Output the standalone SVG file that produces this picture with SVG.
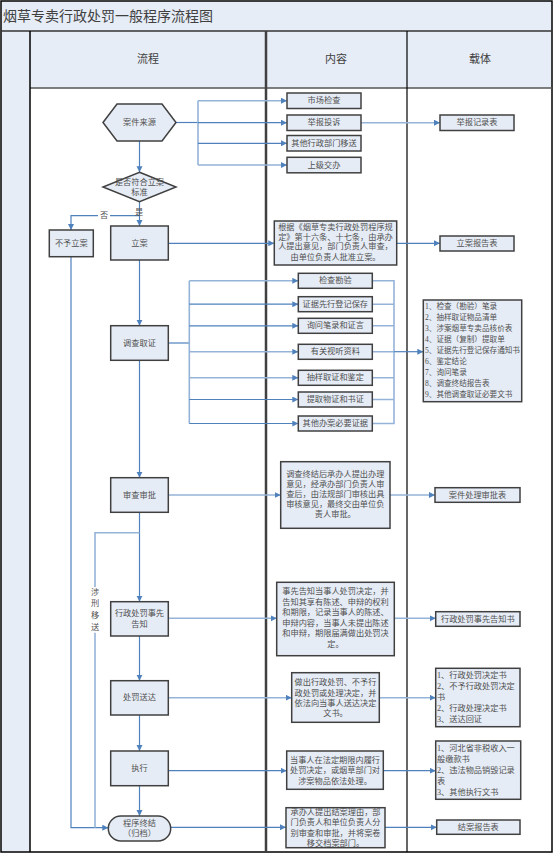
<svg xmlns="http://www.w3.org/2000/svg" width="554" height="855" viewBox="0 0 554 855">
<style>
.box{fill:#E6ECF6;stroke:#404040;stroke-width:1.5}
.t{font-family:"Liberation Serif","Noto Sans CJK SC","Noto Sans CJK JP",serif;font-size:8.2px;fill:#505050;text-anchor:middle;dominant-baseline:central}
.tl{font-family:"Liberation Serif","Noto Sans CJK SC","Noto Sans CJK JP",serif;font-size:8.2px;fill:#505050;text-anchor:start;dominant-baseline:central}
.h{font-family:"Liberation Serif","Noto Sans CJK SC","Noto Sans CJK JP",serif;font-size:11px;fill:#404040;text-anchor:middle;dominant-baseline:central}
.ln{stroke:#4F81BD;stroke-width:1.2;fill:none}
.lt{stroke:#95B3D7;stroke-width:1.6;fill:none}
.a{marker-end:url(#arr)}
</style>
<defs>
<marker id="arr" markerUnits="userSpaceOnUse" markerWidth="7" markerHeight="7" refX="6" refY="3" orient="auto">
<path d="M0,0 L6,3 L0,6 z" fill="#4F81BD"/>
</marker>
</defs>
<g id="frame">
<rect x="0" y="0" width="554" height="855" fill="#ffffff"/>
<rect x="1" y="1" width="551" height="30" fill="#E6EDF7"/>
<rect x="1" y="31" width="29" height="821" fill="#E6EDF7"/>
<rect x="30" y="31" width="522" height="57" fill="#E6EDF7"/>
<rect x="1" y="1" width="551" height="851" fill="none" stroke="#000" stroke-width="1.5"/>
<line x1="1" y1="31" x2="552" y2="31" stroke="#333" stroke-width="1.5"/>
<line x1="30" y1="88" x2="552" y2="88" stroke="#555" stroke-width="1.5"/>
<line x1="30" y1="31" x2="30" y2="852" stroke="#000" stroke-width="1.5"/>
<line x1="266" y1="31" x2="266" y2="852" stroke="#404040" stroke-width="2.5"/>
<line x1="407" y1="31" x2="407" y2="852" stroke="#000" stroke-width="1.2"/>
<text x="3" y="16" style="font-family:'Liberation Serif','Noto Sans CJK SC',serif;font-size:14px;fill:#404040;dominant-baseline:central">烟草专卖行政处罚一般程序流程图</text>
<text class="h" x="148" y="59">流程</text>
<text class="h" x="336" y="59">内容</text>
<text class="h" x="480" y="59">载体</text>
</g>
<g id="connectors">
<path class="ln" d="M176,122.5 H198" stroke-width="2"/>
<path class="lt" d="M198,100.7 V165"/>
<path class="lt a" d="M198,100.7 H287"/>
<path class="ln a" d="M198,122.7 H287"/>
<path class="ln a" d="M198,143.3 H287"/>
<path class="lt a" d="M198,165 H287"/>
<path class="lt a" d="M361,122.7 H440"/>
<path class="ln a" d="M139.5,141 V172.3"/>
<path class="ln a" d="M139.5,201.7 V226"/>
<path class="ln a" d="M139.5,215.7 H71 V230"/>
<path class="ln a" d="M168.3,243.3 H274.3"/>
<path class="ln a" d="M396.7,243.3 H440"/>
<path class="ln a" d="M139.5,260 V325.7"/>
<path class="ln" d="M168.3,343 H189.3" stroke-width="2"/>
<path class="lt" d="M189.3,280.8 V423.5"/>
<path class="lt a" d="M189.3,280.8 H298.3"/>
<path class="ln a" d="M189.3,304.2 H298.3"/>
<path class="ln a" d="M189.3,325.8 H298.3"/>
<path class="lt a" d="M189.3,351.8 H298.3"/>
<path class="lt a" d="M189.3,377.8 H298.3"/>
<path class="ln a" d="M189.3,399.5 H298.3"/>
<path class="ln a" d="M189.3,423.5 H298.3"/>
<path class="lt" d="M372.3,280.8 H394 V423.5 H372.3"/>
<path class="lt" d="M372.3,304.2 H394 M372.3,325.8 H394 M372.3,351.8 H394 M372.3,377.8 H394 M372.3,399.5 H394"/>
<path class="ln a" d="M394,351.7 H423.3" stroke-width="2"/>
<path class="ln a" d="M139.5,360.3 V477.7"/>
<path class="lt a" d="M168.3,495 H280.7"/>
<path class="lt a" d="M390,495 H435"/>
<path class="ln a" d="M139.5,512.3 V601.7"/>
<path class="lt a" d="M168.3,618.3 H276.7"/>
<path class="lt a" d="M394.3,618.3 H435.7"/>
<path class="ln a" d="M139.5,636 V680.7"/>
<path class="lt a" d="M168.3,697.7 H291.7"/>
<path class="lt a" d="M379.3,697.7 H435.7"/>
<path class="ln a" d="M139.5,715 V751"/>
<path class="ln a" d="M168.3,770.7 H286.7"/>
<path class="ln a" d="M383.3,770.7 H435.7"/>
<path class="ln a" d="M139.5,785.7 V816"/>
<path class="ln a" d="M170.7,827.3 H286"/>
<path class="ln a" d="M385,827.3 H436.7"/>
<path class="ln a" d="M71,256.7 V827.7 H108.3"/>
<path class="lt" d="M139.5,532.7 H95 V587 M95,632.7 V827.7"/>
<rect x="98" y="209" width="12" height="12" fill="#fff"/>
<text class="t" x="104" y="215.7">否</text>
<text class="t" x="139" y="212">是</text>
<text class="t"><tspan x="95" y="591.7">涉</tspan><tspan x="95" y="603.3">刑</tspan><tspan x="95" y="615">移</tspan><tspan x="95" y="626.7">送</tspan></text>
</g>
<g id="n_source">
<polygon class="box" points="103,122.5 117,104 162,104 176,122.5 162,141 117,141"/>
<text class="t" x="139.5" y="122.5">案件来源</text>
</g>
<g id="n_s1"><rect class="box" x="287" y="93" width="74" height="15.5"/><text class="t" x="324" y="100.7">市场检查</text></g>
<g id="n_s2"><rect class="box" x="287" y="115" width="74" height="15.5"/><text class="t" x="324" y="122.7">举报投诉</text></g>
<g id="n_s3"><rect class="box" x="287" y="135.5" width="74" height="15.5"/><text class="t" x="324" y="143.3">其他行政部门移送</text></g>
<g id="n_s4"><rect class="box" x="287" y="157.3" width="74" height="15.5"/><text class="t" x="324" y="165">上级交办</text></g>
<g id="n_jbjlb"><rect class="box" x="440" y="115" width="74" height="15.5"/><text class="t" x="477" y="122.7">举报记录表</text></g>
<g id="n_decision">
<polygon class="box" points="139.5,172.3 176,187 139.5,201.7 103,187"/>
<text class="t"><tspan x="139.5" y="181.7">是否符合立案</tspan><tspan x="139.5" y="191.7">标准</tspan></text>
</g>
<g id="n_buyu"><rect class="box" x="49.3" y="230" width="44" height="26.7"/><text class="t" x="71.3" y="243.3">不予立案</text></g>
<g id="n_lian"><rect class="box" x="110.7" y="226" width="57.6" height="34"/><text class="t" x="139.5" y="243">立案</text></g>
<g id="n_lian_c">
<rect class="box" x="274.3" y="221" width="122.4" height="44"/>
<text class="t"><tspan x="335.5" y="226.7">根据《烟草专卖行政处罚程序规</tspan><tspan x="335.5" y="236.5">定》第十六条、十七条，由承办</tspan><tspan x="335.5" y="246.3">人提出意见，部门负责人审查，</tspan><tspan x="335.5" y="257">由单位负责人批准立案。</tspan></text>
</g>
<g id="n_lian_r"><rect class="box" x="440" y="236" width="74" height="15"/><text class="t" x="477" y="243.5">立案报告表</text></g>
<g id="n_diaocha"><rect class="box" x="110.7" y="325.7" width="57.6" height="34.6"/><text class="t" x="139.5" y="343">调查取证</text></g>
<g id="n_e1"><rect class="box" x="298.3" y="273.3" width="74" height="15"/><text class="t" x="335.3" y="280.8">检查勘验</text></g>
<g id="n_e2"><rect class="box" x="298.3" y="296.7" width="74" height="15"/><text class="t" x="335.3" y="304.2">证据先行登记保存</text></g>
<g id="n_e3"><rect class="box" x="298.3" y="318.3" width="74" height="15"/><text class="t" x="335.3" y="325.8">询问笔录和证言</text></g>
<g id="n_e4"><rect class="box" x="298.3" y="344.3" width="74" height="15"/><text class="t" x="335.3" y="351.8">有关视听资料</text></g>
<g id="n_e5"><rect class="box" x="298.3" y="370.3" width="74" height="15"/><text class="t" x="335.3" y="377.8">抽样取证和鉴定</text></g>
<g id="n_e6"><rect class="box" x="298.3" y="392" width="74" height="15"/><text class="t" x="335.3" y="399.5">提取物证和书证</text></g>
<g id="n_e7"><rect class="box" x="298.3" y="416" width="74" height="15"/><text class="t" x="335.3" y="423.5">其他办案必要证据</text></g>
<g id="n_diaocha_r">
<rect class="box" x="423.3" y="300" width="98.4" height="101.7"/>
<text class="tl" style="font-size:7.6px"><tspan x="425" y="305.6">1、检查（勘验）笔录</tspan><tspan x="425" y="316.7">2、抽样取证物品清单</tspan><tspan x="425" y="327.8">3、涉案烟草专卖品核价表</tspan><tspan x="425" y="338.9">4、证据（复制）提取单</tspan><tspan x="425" y="350">5、证据先行登记保存通知书</tspan><tspan x="425" y="361.1">6、鉴定结论</tspan><tspan x="425" y="372.2">7、询问笔录</tspan><tspan x="425" y="383.3">8、调查终结报告表</tspan><tspan x="425" y="394.4">9、其他调查取证必要文书</tspan></text>
</g>
<g id="n_shencha"><rect class="box" x="110.7" y="477.7" width="57.6" height="34.6"/><text class="t" x="139.5" y="495">审查审批</text></g>
<g id="n_shencha_c">
<rect class="box" x="280.7" y="461.7" width="109.3" height="66.6"/>
<text class="t"><tspan x="335.3" y="474.3">调查终结后承办人提出办理</tspan><tspan x="335.3" y="484.3">意见，经承办部门负责人审</tspan><tspan x="335.3" y="494.3">查后，由法规部门审核出具</tspan><tspan x="335.3" y="504.3">审核意见，最终交由单位负</tspan><tspan x="335.3" y="514.3">责人审批。</tspan></text>
</g>
<g id="n_shencha_r"><rect class="box" x="435" y="487.7" width="85" height="14.6"/><text class="t" x="477.5" y="495">案件处理审批表</text></g>
<g id="n_gaozhi"><rect class="box" x="110.7" y="601.7" width="57.6" height="34.3"/><text class="t"><tspan x="139.5" y="613.3">行政处罚事先</tspan><tspan x="139.5" y="623.5">告知</tspan></text></g>
<g id="n_gaozhi_c">
<rect class="box" x="276.7" y="582.3" width="117.6" height="73.4"/>
<text class="t"><tspan x="335.5" y="591">事先告知当事人处罚决定，并</tspan><tspan x="335.5" y="601.6">告知其享有陈述、申辩的权利</tspan><tspan x="335.5" y="612.2">和期限，记录当事人的陈述、</tspan><tspan x="335.5" y="622.8">申辩内容，当事人未提出陈述</tspan><tspan x="335.5" y="633.4">和申辩，期限届满做出处罚决</tspan><tspan x="335.5" y="644">定。</tspan></text>
</g>
<g id="n_gaozhi_r"><rect class="box" x="435.7" y="611.7" width="84.3" height="14.6"/><text class="t" x="477.8" y="619">行政处罚事先告知书</text></g>
<g id="n_songda"><rect class="box" x="110.7" y="680.7" width="57.6" height="34.3"/><text class="t" x="139.5" y="697.8">处罚送达</text></g>
<g id="n_songda_c">
<rect class="box" x="291.7" y="672.7" width="87.6" height="49.6"/>
<text class="t"><tspan x="335.5" y="682.3">做出行政处罚、不予行</tspan><tspan x="335.5" y="692.5">政处罚或处理决定，并</tspan><tspan x="335.5" y="702.7">依法向当事人送达决定</tspan><tspan x="335.5" y="712.7">文书。</tspan></text>
</g>
<g id="n_songda_r">
<rect class="box" x="435.7" y="668.3" width="84.3" height="58.4"/>
<text class="tl"><tspan x="437" y="675">1、行政处罚决定书</tspan><tspan x="437" y="686">2、不予行政处罚决定</tspan><tspan x="437" y="696.7">书</tspan><tspan x="437" y="708.3">2、行政处理决定书</tspan><tspan x="437" y="719.3">3、送达回证</tspan></text>
</g>
<g id="n_zhixing"><rect class="box" x="110.7" y="751" width="57.6" height="34.7"/><text class="t" x="139.5" y="768.3">执行</text></g>
<g id="n_zhixing_c">
<rect class="box" x="286.7" y="751" width="96.6" height="38.3"/>
<text class="t"><tspan x="335" y="760">当事人在法定期限内履行</tspan><tspan x="335" y="770.3">处罚决定，或烟草部门对</tspan><tspan x="335" y="780.7">涉案物品依法处理。</tspan></text>
</g>
<g id="n_zhixing_r">
<rect class="box" x="435.7" y="741" width="85" height="58.3"/>
<text class="tl"><tspan x="437" y="748.3">1、河北省非税收入一</tspan><tspan x="437" y="759">般缴款书</tspan><tspan x="437" y="770">2、违法物品销毁记录</tspan><tspan x="437" y="780.7">表</tspan><tspan x="437" y="791.7">3、其他执行文书</tspan></text>
</g>
<g id="n_end">
<rect class="box" x="108.3" y="816" width="62.4" height="25" rx="12.5" ry="12.5"/>
<text class="t"><tspan x="139.5" y="822.7">程序终结</tspan><tspan x="139.5" y="833.3">（归档）</tspan></text>
</g>
<g id="n_end_c">
<rect class="box" x="286" y="807.7" width="99" height="40"/>
<text class="t"><tspan x="335.5" y="812">承办人提出结案理由，部</tspan><tspan x="335.5" y="822">门负责人和单位负责人分</tspan><tspan x="335.5" y="832.5">别审查和审批，并将案卷</tspan><tspan x="335.5" y="842.7">移交档案部门。</tspan></text>
</g>
<g id="n_end_r"><rect class="box" x="436.7" y="820" width="83.3" height="14.3"/><text class="t" x="478.3" y="827.2">结案报告表</text></g>
</svg>
